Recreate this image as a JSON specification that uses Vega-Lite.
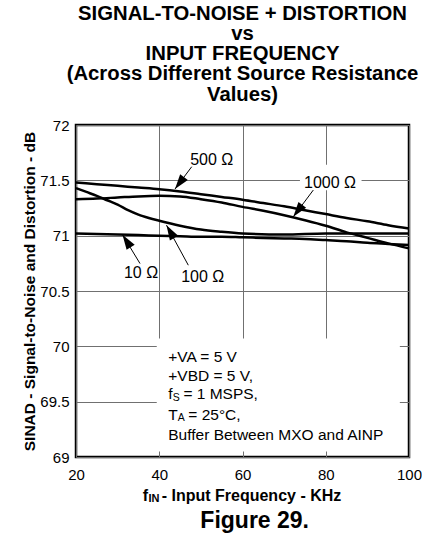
{
  "$schema": "https://vega.github.io/schema/vega-lite/v6.json",
  "width": 333,
  "height": 332,
  "autosize": {"type": "none"},
  "padding": {"left": 76, "top": 125, "right": 13, "bottom": 84},
  "background": "white",
  "config": {
    "font": "Liberation Sans",
    "view": {"stroke": "black", "strokeWidth": 2.5},
    "axis": {"labelColor": "black", "titleColor": "black", "gridColor": "#707070", "gridWidth": 1, "ticks": false, "domain": false, "labelFontSize": 15, "labelOverlap": false}
  },
  "title": {
    "text": ["SIGNAL-TO-NOISE + DISTORTION", "vs", "INPUT FREQUENCY", "(Across Different Source Resistance", "Values)"],
    "fontSize": 20.3,
    "fontWeight": "bold",
    "lineHeight": 20.3,
    "anchor": "middle",
    "baseline": "alphabetic",
    "offset": -3,
    "color": "black",
    "font": "Liberation Sans"
  },
  "datasets": {
    "curves": [
      {"x": 20, "y": 71.48, "r": "500"}, {"x": 25, "y": 71.465, "r": "500"}, {"x": 30, "y": 71.45, "r": "500"}, {"x": 35, "y": 71.435, "r": "500"}, {"x": 40, "y": 71.42, "r": "500"}, {"x": 45, "y": 71.4, "r": "500"}, {"x": 50, "y": 71.375, "r": "500"}, {"x": 55, "y": 71.35, "r": "500"}, {"x": 60, "y": 71.325, "r": "500"}, {"x": 65, "y": 71.295, "r": "500"}, {"x": 70, "y": 71.265, "r": "500"}, {"x": 75, "y": 71.23, "r": "500"}, {"x": 80, "y": 71.195, "r": "500"}, {"x": 85, "y": 71.16, "r": "500"}, {"x": 90, "y": 71.13, "r": "500"}, {"x": 95, "y": 71.095, "r": "500"}, {"x": 100, "y": 71.065, "r": "500"},
      {"x": 20, "y": 71.33, "r": "1000"}, {"x": 25, "y": 71.335, "r": "1000"}, {"x": 30, "y": 71.345, "r": "1000"}, {"x": 35, "y": 71.355, "r": "1000"}, {"x": 40, "y": 71.36, "r": "1000"}, {"x": 45, "y": 71.355, "r": "1000"}, {"x": 50, "y": 71.33, "r": "1000"}, {"x": 55, "y": 71.3, "r": "1000"}, {"x": 60, "y": 71.26, "r": "1000"}, {"x": 65, "y": 71.225, "r": "1000"}, {"x": 70, "y": 71.185, "r": "1000"}, {"x": 75, "y": 71.14, "r": "1000"}, {"x": 80, "y": 71.09, "r": "1000"}, {"x": 85, "y": 71.03, "r": "1000"}, {"x": 90, "y": 70.98, "r": "1000"}, {"x": 95, "y": 70.93, "r": "1000"}, {"x": 100, "y": 70.885, "r": "1000"},
      {"x": 20, "y": 71.43, "r": "100"}, {"x": 22.5, "y": 71.395, "r": "100"}, {"x": 25, "y": 71.36, "r": "100"}, {"x": 27.5, "y": 71.32, "r": "100"}, {"x": 30, "y": 71.28, "r": "100"}, {"x": 32.5, "y": 71.23, "r": "100"}, {"x": 35, "y": 71.19, "r": "100"}, {"x": 37.5, "y": 71.16, "r": "100"}, {"x": 40, "y": 71.135, "r": "100"}, {"x": 45, "y": 71.09, "r": "100"}, {"x": 50, "y": 71.055, "r": "100"}, {"x": 55, "y": 71.035, "r": "100"}, {"x": 60, "y": 71.02, "r": "100"}, {"x": 70, "y": 71.01, "r": "100"}, {"x": 80, "y": 71.02, "r": "100"}, {"x": 90, "y": 71.02, "r": "100"}, {"x": 100, "y": 71.02, "r": "100"},
      {"x": 20, "y": 71.02, "r": "10"}, {"x": 25, "y": 71.015, "r": "10"}, {"x": 30, "y": 71.01, "r": "10"}, {"x": 35, "y": 71.005, "r": "10"}, {"x": 40, "y": 71.0, "r": "10"}, {"x": 45, "y": 70.995, "r": "10"}, {"x": 50, "y": 70.99, "r": "10"}, {"x": 55, "y": 70.99, "r": "10"}, {"x": 60, "y": 70.985, "r": "10"}, {"x": 65, "y": 70.98, "r": "10"}, {"x": 70, "y": 70.975, "r": "10"}, {"x": 75, "y": 70.97, "r": "10"}, {"x": 80, "y": 70.96, "r": "10"}, {"x": 85, "y": 70.95, "r": "10"}, {"x": 90, "y": 70.935, "r": "10"}, {"x": 95, "y": 70.925, "r": "10"}, {"x": 100, "y": 70.915, "r": "10"}
    ],
    "boxes": [
      {"x": 39.4, "x2": 97.8, "y": 70.07, "y2": 69.05},
      {"x": 73.8, "x2": 88.6, "y": 71.64, "y2": 71.41}
    ],
    "arrows": [
      {"id": "500", "x": 47.8, "y": 71.623, "x2": 43.78, "y2": 71.421},
      {"id": "1000", "x": 77.01, "y": 71.412, "x2": 72.2, "y2": 71.17},
      {"id": "10", "x": 35.38, "y": 70.748, "x2": 31.17, "y2": 71.009},
      {"id": "100", "x": 46.98, "y": 70.733, "x2": 41.74, "y2": 71.095}
    ],
    "heads": [
      {"id": "500", "x": 43.78, "y": 71.421},
      {"id": "1000", "x": 72.2, "y": 71.17},
      {"id": "10", "x": 31.17, "y": 71.009},
      {"id": "100", "x": 41.74, "y": 71.095}
    ],
    "rlabels": [
      {"x": 52.6, "y": 71.683, "t": "500 Ω"},
      {"x": 81.02, "y": 71.478, "t": "1000 Ω"},
      {"x": 35.62, "y": 70.667, "t": "10 Ω"},
      {"x": 50.44, "y": 70.627, "t": "100 Ω"}
    ],
    "notes": [
      {"x": 42.17, "y": 69.903, "t": "+VA = 5 V"},
      {"x": 42.17, "y": 69.729, "t": "+VBD = 5 V,"},
      {"x": 42.17, "y": 69.566, "t": "f"},
      {"x": 45.8, "y": 69.566, "t": "= 1 MSPS,"},
      {"x": 42.17, "y": 69.376, "t": "T"},
      {"x": 46.98, "y": 69.376, "t": "= 25°C,"},
      {"x": 42.17, "y": 69.195, "t": "Buffer Between MXO and AINP"}
    ],
    "subs": [
      {"x": 43.22, "y": 69.529, "t": "S"},
      {"x": 44.45, "y": 69.348, "t": "A"}
    ],
    "xtitle": [
      {"x": 36.02, "y": 68.652, "t": "f"},
      {"x": 40.59, "y": 68.652, "t": "- Input Frequency - KHz"}
    ],
    "xsub": [
      {"x": 37.4, "y": 68.616, "t": "IN"}
    ],
    "fig": [
      {"x": 62.93, "y": 68.425, "t": "Figure 29."}
    ]
  },
  "encoding": {
    "x": {
      "field": "x", "type": "quantitative",
      "scale": {"domain": [20, 100], "nice": false, "zero": false},
      "axis": {"values": [20, 40, 60, 80, 100], "format": "d", "title": null, "labelPadding": 10, "labelFlush": false}
    },
    "y": {
      "field": "y", "type": "quantitative",
      "scale": {"domain": [69, 72], "nice": false, "zero": false},
      "axis": {"values": [69, 69.5, 70, 70.5, 71, 71.5, 72], "format": ".1~f", "title": "SINAD - Signal-to-Noise and Distortion - dB", "titleFontSize": 15.5, "titleFontWeight": "bold", "titlePadding": 2, "labelPadding": 7}
    }
  },
  "layer": [
    {"data": {"name": "boxes"}, "mark": {"type": "rect", "fill": "white", "stroke": null}, "encoding": {"x2": {"field": "x2"}, "y2": {"field": "y2"}}},
    {"data": {"name": "curves"}, "mark": {"type": "line", "color": "black", "strokeWidth": 2.5, "interpolate": "monotone"}, "encoding": {"detail": {"field": "r"}}},
    {"data": {"name": "arrows"}, "mark": {"type": "rule", "color": "black", "strokeWidth": 1}, "encoding": {"x2": {"field": "x2"}, "y2": {"field": "y2"}}},
    {"data": {"name": "heads"}, "transform": [{"filter": "datum.id === '500'"}], "mark": {"type": "point", "shape": "M0,0L-0.32,1L0.32,1Z", "size": 900, "filled": true, "color": "black", "opacity": 1, "angle": 216.9}, "encoding": {}},
    {"data": {"name": "heads"}, "transform": [{"filter": "datum.id === '1000'"}], "mark": {"type": "point", "shape": "M0,0L-0.32,1L0.32,1Z", "size": 900, "filled": true, "color": "black", "opacity": 1, "angle": 216.9}, "encoding": {}},
    {"data": {"name": "heads"}, "transform": [{"filter": "datum.id === '10'"}], "mark": {"type": "point", "shape": "M0,0L-0.32,1L0.32,1Z", "size": 900, "filled": true, "color": "black", "opacity": 1, "angle": 327.1}, "encoding": {}},
    {"data": {"name": "heads"}, "transform": [{"filter": "datum.id === '100'"}], "mark": {"type": "point", "shape": "M0,0L-0.32,1L0.32,1Z", "size": 900, "filled": true, "color": "black", "opacity": 1, "angle": 329.8}, "encoding": {}},
    {"data": {"name": "rlabels"}, "mark": {"type": "text", "fontSize": 16, "align": "center", "baseline": "middle", "color": "black"}, "encoding": {"text": {"field": "t"}}},
    {"data": {"name": "notes"}, "mark": {"type": "text", "fontSize": 15.5, "align": "left", "baseline": "middle", "color": "black"}, "encoding": {"text": {"field": "t"}}},
    {"data": {"name": "subs"}, "mark": {"type": "text", "fontSize": 10.5, "align": "left", "baseline": "middle", "color": "black"}, "encoding": {"text": {"field": "t"}}},
    {"data": {"name": "xtitle"}, "mark": {"type": "text", "fontSize": 16, "fontWeight": "bold", "align": "left", "baseline": "middle", "color": "black"}, "encoding": {"text": {"field": "t"}}},
    {"data": {"name": "xsub"}, "mark": {"type": "text", "fontSize": 11, "fontWeight": "bold", "align": "left", "baseline": "middle", "color": "black"}, "encoding": {"text": {"field": "t"}}},
    {"data": {"name": "fig"}, "mark": {"type": "text", "fontSize": 23, "fontWeight": "bold", "align": "center", "baseline": "middle", "color": "black"}, "encoding": {"text": {"field": "t"}}}
  ]
}
